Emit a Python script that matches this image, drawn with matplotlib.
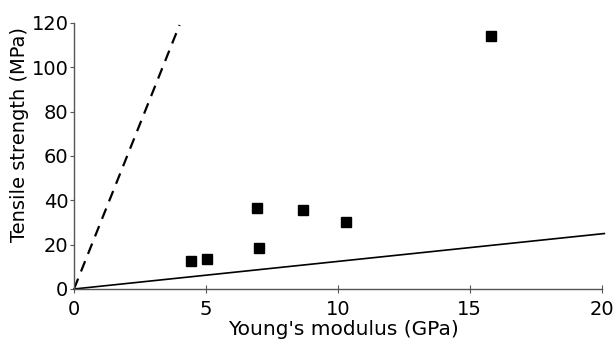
import matplotlib.pyplot as plt

plt.rcParams['font.family'] = ['DejaVu Sans']

# measured points
modulus = [4.42, 5.05, 6.93, 7.02, 8.67, 10.29, 15.82]
strength = [12.5, 13.5, 36.4, 18.5, 35.7, 30.4, 113.9]

# reference lines
dashed_x = [0, 4.0]
dashed_y = [0, 119]
solid_x = [0, 20.1]
solid_y = [0, 25]

x_ticks = [0, 5, 10, 15, 20]
y_ticks = [0, 20, 40, 60, 80, 100, 120]

fig = plt.figure(figsize=(6.14, 3.4), dpi=100)
ax = fig.add_axes([0.1205, 0.15, 0.8595, 0.783])

ax.plot(dashed_x, dashed_y, color="black", linewidth=1.6, linestyle=(0, (5, 3.5)))
ax.plot(solid_x, solid_y, color="black", linewidth=1.2, clip_on=False)
ax.plot(modulus, strength, linestyle="none", marker="s", markersize=7.8,
        color="black", clip_on=False)

ax.set_xlim(0, 20)
ax.set_ylim(0, 120)
ax.set_xticks(x_ticks)
ax.set_yticks(y_ticks)

for side in ["top", "right"]:
    ax.spines[side].set_visible(False)
for side in ["left", "bottom"]:
    ax.spines[side].set_color("#555555")
    ax.spines[side].set_linewidth(1.0)

ax.tick_params(axis="x", direction="inout", length=6, width=0.8, color="#555555",
               labelsize=14, pad=5)
ax.tick_params(axis="y", direction="out", length=3, width=0.8, color="#555555",
               labelsize=14, pad=1)

ax.set_xlabel("Young's modulus (GPa)", fontsize=14.5)
ax.set_ylabel("Tensile strength (MPa)", fontsize=14)
ax.yaxis.set_label_coords(-0.085, 0.58)
ax.xaxis.set_label_coords(0.51, -0.118)

fig.savefig("out.png", dpi=100)
plt.close(fig)
